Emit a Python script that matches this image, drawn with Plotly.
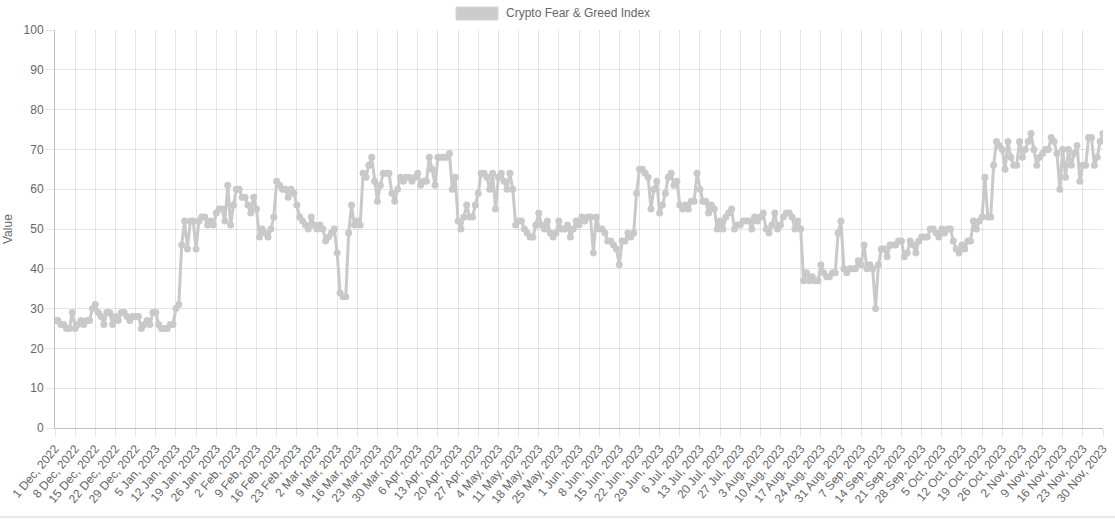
import pandas as pd
import plotly.graph_objects as go

start_date = "2022-12-01"
dec_2022 = [27,27,26,26,25,25,29,25,26,27, 26,27,27,30,31,29,28,26,29,29, 26,28,27,29,29,28,27,28,28,28, 25]
jan_2023 = [26,27,26,29,29,26,25,25,25,26, 26,30,31,46,52,45,52,52,45,52, 53,53,51,52,51,54,55,55,52,61, 51]
feb_2023 = [56,60,60,58,58,56,54,58,55,48, 50,49,48,50,53,62,61,60,60,58, 60,59,56,53,52,51,50,53]
mar_2023 = [51,50,51,50,47,48,49,50,44,34, 33,33,49,56,51,52,51,64,63,66, 68,62,57,61,64,64,64,59,57,60, 63]
apr_2023 = [62,63,63,62,63,64,61,62,62,68, 65,61,68,68,68,68,69,60,63,52, 50,53,56,53,53,56,59,64,64,63]
may_2023 = [60,64,55,63,64,62,60,64,60,51, 52,52,50,49,48,48,51,54,51,50, 52,49,48,49,52,50,50,51,48,50, 52]
jun_2023 = [51,53,52,53,53,44,53,50,50,49, 47,47,46,45,41,47,47,49,48,49, 59,65,65,64,63,55,60,62,54,56]
jul_2023 = [59,63,64,61,62,56,55,56,55,57, 57,64,60,57,57,54,56,55,50,52, 50,53,54,55,50,51,51,52,52,52, 50]
aug_2023 = [53,52,53,54,50,49,51,54,50,51, 53,54,54,53,50,52,50,37,39,37, 38,37,37,41,39,38,38,39,39,49, 52]
sep_2023 = [40,39,40,40,40,42,41,46,40,41, 40,30,41,45,45,43,46,46,46,47, 47,43,44,47,46,44,47,48,48,48]
oct_2023 = [50,50,49,48,50,49,50,50,47,45, 44,46,45,47,47,52,50,52,53,63, 53,53,66,72,71,70,65,72,68,66, 66]
nov_2023 = [72,68,70,72,74,70,66,68,69,70, 70,73,72,69,60,70,63,70,66,69, 71,62,66,66,73,73,66,68,72,74]

values = (dec_2022 + jan_2023 + feb_2023 + mar_2023 + apr_2023 + may_2023 +
          jun_2023 + jul_2023 + aug_2023 + sep_2023 + oct_2023 + nov_2023)
dates = pd.date_range(start_date, periods=len(values), freq="D")

tick_dates = dates[::7]
tick_labels = [f"{d.day} {d.strftime('%b')}, {d.year}" for d in tick_dates]
y_ticks = list(range(0, 101, 10))

series_name = "Crypto Fear & Greed Index"
line_color = "rgb(201,201,201)"
text_color = "#666666"
grid_color = "rgba(0,0,0,0.1)"
font_family = "Liberation Sans, Arial, sans-serif"

fig = go.Figure()
fig.add_trace(go.Scatter(
    x=dates, y=values, mode="lines+markers", name=series_name,
    line=dict(color=line_color, width=3),
    marker=dict(color=line_color, size=7),
    showlegend=False,
))

W, H = 1115, 520
L, R, T, B = 55, 12, 30, 92
pw, ph = W - L - R, H - T - B

def px_x(x):
    return (x - L) / pw

def px_y(y):
    return (H - B - y) / ph

fig.update_layout(
    width=W, height=H,
    margin=dict(l=L, r=R, t=T, b=B, autoexpand=False),
    paper_bgcolor="white", plot_bgcolor="white",
    font=dict(family=font_family, size=12, color=text_color),
    xaxis=dict(
        range=[dates[0], dates[-1]], automargin=False,
        tickmode="array", tickvals=tick_dates, ticktext=tick_labels,
        tickangle=-50, showgrid=True, gridcolor=grid_color, gridwidth=1,
        ticks="outside", ticklen=8, tickcolor=grid_color,
        showline=True, linecolor="rgba(0,0,0,0.25)", linewidth=1,
        zeroline=False, tickfont=dict(size=12, color=text_color),
    ),
    yaxis=dict(
        range=[0, 100], tickmode="array", tickvals=y_ticks, automargin=False,
        showgrid=True, gridcolor=grid_color, gridwidth=1,
        ticks="outside", ticklen=8, tickcolor=grid_color,
        showline=True, linecolor="rgba(0,0,0,0.25)", linewidth=1,
        zeroline=False, tickfont=dict(size=12, color=text_color),
    ),
    shapes=[
        dict(type="rect", xref="paper", yref="paper",
             x0=px_x(456), x1=px_x(498), y0=px_y(20), y1=px_y(7),
             fillcolor="rgb(204,204,204)", line=dict(color="rgb(214,214,214)", width=1)),
        dict(type="line", xref="paper", yref="paper",
             x0=px_x(0), x1=px_x(W), y0=px_y(517), y1=px_y(517),
             line=dict(color="rgb(210,210,210)", width=1)),
    ],
    annotations=[
        dict(text=series_name, xref="paper", yref="paper",
             x=px_x(504), y=px_y(13), xanchor="left", yanchor="middle",
             showarrow=False, font=dict(size=12, color=text_color)),
        dict(text="Value", xref="paper", yref="paper",
             x=px_x(8), y=0.5, xanchor="center", yanchor="middle",
             textangle=-90, showarrow=False, font=dict(size=12, color=text_color)),
    ],
)

fig.write_html("out.html", config={"displayModeBar": False},
               post_script="document.body.style.margin='0';")
